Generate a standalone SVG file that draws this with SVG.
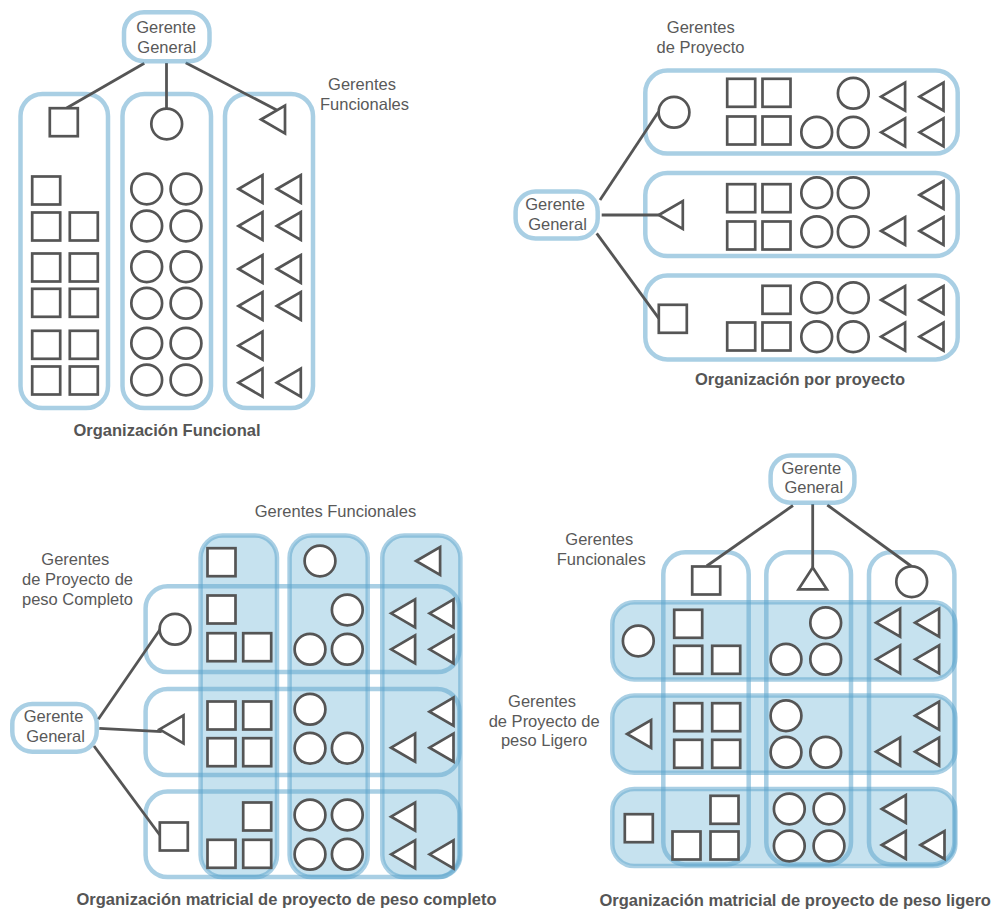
<svg xmlns="http://www.w3.org/2000/svg" xmlns:xlink="http://www.w3.org/1999/xlink" width="995" height="913" viewBox="0 0 995 913">
<style>
.bg{fill:#fff}
.box{fill:none;stroke:rgba(91,163,203,0.52);stroke-width:4.5}
.boxf{fill:#c6e2ef;stroke:rgba(91,163,203,0.52);stroke-width:4.5}
.gg{fill:#fff;stroke:rgba(91,163,203,0.52);stroke-width:4.5}
.sh{fill:#fff;stroke:#555;stroke-width:2.7}
.ln{fill:none;stroke:#555;stroke-width:2.8}
.tx{font-family:"Liberation Sans",Arial,sans-serif;font-size:16.5px;fill:#595959;text-anchor:middle}
.tt{font-family:"Liberation Sans",Arial,sans-serif;font-size:16.5px;font-weight:bold;fill:#555;text-anchor:middle}
</style>
<defs>
<rect id="q" width="28" height="28"/>
<circle id="o" r="15.4"/>
<polygon id="t" points="0,0 24,-14 24,14"/>
</defs>
<rect class="bg" width="995" height="913"/>

<!-- ===== Panel 1: Organización Funcional ===== -->
<g id="p1">
  <g id="p1-cols">
    <rect id="p1-col1" class="box" x="20.5" y="94" width="87.5" height="314" rx="22"/>
    <rect id="p1-col2" class="box" x="122.5" y="94" width="88.5" height="314" rx="22"/>
    <rect id="p1-col3" class="box" x="225" y="94" width="88" height="314" rx="22"/>
  </g>
  <g id="p1-connectors">
    <line class="ln" x1="144.3" y1="63.3" x2="66.7" y2="108"/>
    <line class="ln" x1="166.5" y1="63" x2="166.5" y2="108.6"/>
    <line class="ln" x1="185.7" y1="62.7" x2="276.7" y2="110"/>
  </g>
  <g id="p1-gg">
    <rect class="gg" x="124" y="12.3" width="85.5" height="49" rx="20"/>
    <text class="tx" x="166" y="33.3">Gerente</text>
    <text class="tx" x="166.7" y="53.3">General</text>
  </g>
  <g id="p1-label">
    <text class="tx" x="362" y="90">Gerentes</text>
    <text class="tx" x="364.5" y="110">Funcionales</text>
  </g>
  <g id="p1-mgrs" class="sh">
    <use xlink:href="#q" x="49.8" y="108.2"/>
    <use xlink:href="#o" x="166.7" y="124"/>
    <use xlink:href="#t" x="261" y="119.5"/>
  </g>
  <g id="p1-col1-staff" class="sh">
    <use xlink:href="#q" x="32.2" y="176.5"/>
    <use xlink:href="#q" x="32.2" y="212.5"/><use xlink:href="#q" x="69.8" y="212.5"/>
    <use xlink:href="#q" x="32.2" y="253.5"/><use xlink:href="#q" x="69.8" y="253.5"/>
    <use xlink:href="#q" x="32.2" y="288.8"/><use xlink:href="#q" x="69.8" y="288.8"/>
    <use xlink:href="#q" x="32.2" y="330.8"/><use xlink:href="#q" x="69.8" y="330.8"/>
    <use xlink:href="#q" x="32.2" y="366.5"/><use xlink:href="#q" x="69.8" y="366.5"/>
  </g>
  <g id="p1-col2-staff" class="sh">
    <use xlink:href="#o" x="146.7" y="189"/><use xlink:href="#o" x="186" y="189"/>
    <use xlink:href="#o" x="146.7" y="226"/><use xlink:href="#o" x="186" y="226"/>
    <use xlink:href="#o" x="146.7" y="266.7"/><use xlink:href="#o" x="186" y="266.7"/>
    <use xlink:href="#o" x="146.7" y="303.3"/><use xlink:href="#o" x="186" y="303.3"/>
    <use xlink:href="#o" x="146.7" y="343.3"/><use xlink:href="#o" x="186" y="343.3"/>
    <use xlink:href="#o" x="146.7" y="380"/><use xlink:href="#o" x="186" y="380"/>
  </g>
  <g id="p1-col3-staff" class="sh">
    <use xlink:href="#t" x="238.5" y="189"/><use xlink:href="#t" x="276.8" y="189"/>
    <use xlink:href="#t" x="238.5" y="226"/><use xlink:href="#t" x="276.8" y="226"/>
    <use xlink:href="#t" x="238.5" y="269"/><use xlink:href="#t" x="276.8" y="269"/>
    <use xlink:href="#t" x="238.5" y="306"/><use xlink:href="#t" x="276.8" y="306"/>
    <use xlink:href="#t" x="238.5" y="345.7"/>
    <use xlink:href="#t" x="238.5" y="382.7"/><use xlink:href="#t" x="276.8" y="382.7"/>
  </g>
  <text class="tt" x="167" y="436">Organización Funcional</text>
</g>

<!-- ===== Panel 2: Organización por proyecto ===== -->
<g id="p2">
  <g id="p2-rows">
    <rect id="p2-row1" class="box" x="645.3" y="70.6" width="312.4" height="83" rx="22"/>
    <rect id="p2-row2" class="box" x="645.3" y="173" width="312.4" height="83" rx="22"/>
    <rect id="p2-row3" class="box" x="645.3" y="275.6" width="312.4" height="83.8" rx="22"/>
  </g>
  <g id="p2-connectors">
    <line class="ln" x1="600" y1="200" x2="658.5" y2="111.7"/>
    <line class="ln" x1="601.7" y1="215" x2="658.8" y2="215"/>
    <line class="ln" x1="596.7" y1="233.3" x2="658.8" y2="318.3"/>
  </g>
  <g id="p2-gg">
    <rect class="gg" x="515.6" y="191.6" width="82.1" height="46.8" rx="20"/>
    <text class="tx" x="555" y="210">Gerente</text>
    <text class="tx" x="557.5" y="230">General</text>
  </g>
  <g id="p2-label">
    <text class="tx" x="700.8" y="33.3">Gerentes</text>
    <text class="tx" x="700.5" y="53.3">de Proyecto</text>
  </g>
  <g id="p2-mgrs" class="sh">
    <use xlink:href="#o" x="674" y="112.3"/>
    <use xlink:href="#t" x="658.8" y="215"/>
    <use xlink:href="#q" x="658.8" y="304.8"/>
  </g>
  <g id="p2-row1-staff" class="sh">
    <use xlink:href="#q" x="727.2" y="78.8"/><use xlink:href="#q" x="762.5" y="78.8"/>
    <use xlink:href="#q" x="727.2" y="116.5"/><use xlink:href="#q" x="762.5" y="116.5"/>
    <use xlink:href="#o" x="853.3" y="93.3"/>
    <use xlink:href="#o" x="816.7" y="132.3"/><use xlink:href="#o" x="853.3" y="132.3"/>
    <use xlink:href="#t" x="881.1" y="96.7"/><use xlink:href="#t" x="919.5" y="96.7"/>
    <use xlink:href="#t" x="881.1" y="132.3"/><use xlink:href="#t" x="919.5" y="132.3"/>
  </g>
  <g id="p2-row2-staff" class="sh">
    <use xlink:href="#q" x="727.2" y="184.2"/><use xlink:href="#q" x="762.5" y="184.2"/>
    <use xlink:href="#q" x="727.2" y="221.5"/><use xlink:href="#q" x="762.5" y="221.5"/>
    <use xlink:href="#o" x="816.7" y="192.7"/><use xlink:href="#o" x="853.3" y="192.7"/>
    <use xlink:href="#o" x="816.7" y="231.7"/><use xlink:href="#o" x="853.3" y="231.7"/>
    <use xlink:href="#t" x="919.5" y="195"/>
    <use xlink:href="#t" x="881.1" y="231"/><use xlink:href="#t" x="919.5" y="231"/>
  </g>
  <g id="p2-row3-staff" class="sh">
    <use xlink:href="#q" x="762.5" y="285.8"/>
    <use xlink:href="#q" x="727.2" y="322.5"/><use xlink:href="#q" x="762.5" y="322.5"/>
    <use xlink:href="#o" x="816.7" y="297.7"/><use xlink:href="#o" x="853.3" y="297.7"/>
    <use xlink:href="#o" x="816.7" y="336.7"/><use xlink:href="#o" x="853.3" y="336.7"/>
    <use xlink:href="#t" x="881.1" y="300"/><use xlink:href="#t" x="919.5" y="300"/>
    <use xlink:href="#t" x="881.1" y="336.7"/><use xlink:href="#t" x="919.5" y="336.7"/>
  </g>
  <text class="tt" x="800" y="385">Organización por proyecto</text>
</g>

<!-- ===== Panel 3: matricial peso completo ===== -->
<g id="p3">
  <g id="p3-cols">
    <rect id="p3-col1" class="boxf" x="200.6" y="535.6" width="76.4" height="341.4" rx="22"/>
    <rect id="p3-col2" class="boxf" x="289.6" y="535.6" width="78.1" height="341.4" rx="22"/>
    <rect id="p3-col3" class="boxf" x="382.3" y="535.6" width="78.1" height="341.4" rx="22"/>
  </g>
  <g id="p3-rows">
    <rect id="p3-row1" class="box" x="145.6" y="586.3" width="313.8" height="85.7" rx="22"/>
    <rect id="p3-row2" class="box" x="145.6" y="689" width="313.8" height="86" rx="22"/>
    <rect id="p3-row3" class="box" x="145.6" y="791.6" width="313.8" height="85.4" rx="22"/>
  </g>
  <g id="p3-connectors">
    <line class="ln" x1="98.3" y1="719.3" x2="160" y2="629.5"/>
    <line class="ln" x1="99.3" y1="728.3" x2="161.7" y2="731.7"/>
    <line class="ln" x1="94" y1="746" x2="159.8" y2="835"/>
  </g>
  <g id="p3-gg">
    <rect class="gg" x="12.3" y="704" width="84.4" height="47.7" rx="20"/>
    <text class="tx" x="53.5" y="722.3">Gerente</text>
    <text class="tx" x="55.5" y="741.7">General</text>
  </g>
  <g id="p3-labels">
    <text class="tx" x="335.5" y="516.7">Gerentes Funcionales</text>
    <text class="tx" x="75.3" y="565">Gerentes</text>
    <text class="tx" x="77.5" y="585">de Proyecto de</text>
    <text class="tx" x="77.5" y="605">peso Completo</text>
  </g>
  <g id="p3-mgrs" class="sh">
    <use xlink:href="#q" x="207.5" y="548.2"/>
    <use xlink:href="#o" x="320" y="561"/>
    <use xlink:href="#t" x="416.1" y="561"/>
    <use xlink:href="#o" x="175" y="629.3"/>
    <use xlink:href="#t" x="159.5" y="729.3"/>
    <use xlink:href="#q" x="159.8" y="822.5"/>
  </g>
  <g id="p3-row1-staff" class="sh">
    <use xlink:href="#q" x="207.5" y="595.5"/>
    <use xlink:href="#q" x="207.5" y="633.2"/><use xlink:href="#q" x="243.2" y="633.2"/>
    <use xlink:href="#o" x="347.3" y="610"/>
    <use xlink:href="#o" x="310" y="649.3"/><use xlink:href="#o" x="347.3" y="649.3"/>
    <use xlink:href="#t" x="391.1" y="613.3"/><use xlink:href="#t" x="429.5" y="613.3"/>
    <use xlink:href="#t" x="391.1" y="649.3"/><use xlink:href="#t" x="429.5" y="649.3"/>
  </g>
  <g id="p3-row2-staff" class="sh">
    <use xlink:href="#q" x="207.5" y="701.5"/><use xlink:href="#q" x="243.2" y="701.5"/>
    <use xlink:href="#q" x="207.5" y="738.2"/><use xlink:href="#q" x="243.2" y="738.2"/>
    <use xlink:href="#o" x="310" y="709.3"/>
    <use xlink:href="#o" x="310" y="748.3"/><use xlink:href="#o" x="347.3" y="748.3"/>
    <use xlink:href="#t" x="429.5" y="711.7"/>
    <use xlink:href="#t" x="391.1" y="747.7"/><use xlink:href="#t" x="429.5" y="747.7"/>
  </g>
  <g id="p3-row3-staff" class="sh">
    <use xlink:href="#q" x="243.2" y="802.5"/>
    <use xlink:href="#q" x="207.5" y="839.8"/><use xlink:href="#q" x="243.2" y="839.8"/>
    <use xlink:href="#o" x="310" y="815"/><use xlink:href="#o" x="347.3" y="815"/>
    <use xlink:href="#o" x="310" y="854.3"/><use xlink:href="#o" x="347.3" y="854.3"/>
    <use xlink:href="#t" x="391.1" y="816.7"/>
    <use xlink:href="#t" x="391.1" y="854.3"/><use xlink:href="#t" x="429.5" y="854.3"/>
  </g>
  <text class="tt" x="286.5" y="905">Organización matricial de proyecto de peso completo</text>
</g>

<!-- ===== Panel 4: matricial peso ligero ===== -->
<g id="p4">
  <g id="p4-rows">
    <rect id="p4-row1" class="boxf" x="612.3" y="602.3" width="343.1" height="77.1" rx="22"/>
    <rect id="p4-row2" class="boxf" x="612.3" y="695.6" width="343.1" height="77.1" rx="22"/>
    <rect id="p4-row3" class="boxf" x="612.3" y="789" width="343.1" height="77" rx="22"/>
  </g>
  <g id="p4-cols">
    <rect id="p4-col1" class="box" x="663.3" y="552.3" width="85.4" height="312.1" rx="22"/>
    <rect id="p4-col2" class="box" x="766.3" y="552.3" width="84.7" height="312.1" rx="22"/>
    <rect id="p4-col3" class="box" x="869" y="552.3" width="85.4" height="312.1" rx="22"/>
  </g>
  <g id="p4-connectors">
    <line class="ln" x1="793" y1="505.5" x2="706.7" y2="566"/>
    <line class="ln" x1="812.7" y1="504" x2="812.7" y2="567"/>
    <line class="ln" x1="827.3" y1="505" x2="911.7" y2="566.5"/>
  </g>
  <g id="p4-gg">
    <rect class="gg" x="770.6" y="455.6" width="83.8" height="47.1" rx="20"/>
    <text class="tx" x="811.3" y="474">Gerente</text>
    <text class="tx" x="813.8" y="492.7">General</text>
  </g>
  <g id="p4-labels">
    <text class="tx" x="599.3" y="545">Gerentes</text>
    <text class="tx" x="601.2" y="565">Funcionales</text>
    <text class="tx" x="542" y="706.7">Gerentes</text>
    <text class="tx" x="544.2" y="726.7">de Proyecto de</text>
    <text class="tx" x="544" y="746">peso Ligero</text>
  </g>
  <g id="p4-mgrs" class="sh">
    <use xlink:href="#q" x="692.2" y="566.5"/>
    <polygon points="812.7,567.5 798.5,589.3 826.9,589.3"/>
    <use xlink:href="#o" x="911.7" y="581.7"/>
    <use xlink:href="#o" x="638.3" y="641"/>
    <use xlink:href="#t" x="627.1" y="734"/>
    <use xlink:href="#q" x="624.8" y="814.2"/>
  </g>
  <g id="p4-row1-staff" class="sh">
    <use xlink:href="#q" x="674.2" y="609.8"/>
    <use xlink:href="#q" x="674.2" y="645.8"/><use xlink:href="#q" x="712.2" y="645.8"/>
    <use xlink:href="#o" x="825.7" y="622.7"/>
    <use xlink:href="#o" x="786" y="659.3"/><use xlink:href="#o" x="825.7" y="659.3"/>
    <use xlink:href="#t" x="876.1" y="622.7"/><use xlink:href="#t" x="915.1" y="622.7"/>
    <use xlink:href="#t" x="876.1" y="659.3"/><use xlink:href="#t" x="915.1" y="659.3"/>
  </g>
  <g id="p4-row2-staff" class="sh">
    <use xlink:href="#q" x="674.2" y="703.2"/><use xlink:href="#q" x="712.2" y="703.2"/>
    <use xlink:href="#q" x="674.2" y="739.8"/><use xlink:href="#q" x="712.2" y="739.8"/>
    <use xlink:href="#o" x="786" y="715.7"/>
    <use xlink:href="#o" x="786" y="752.3"/><use xlink:href="#o" x="825.7" y="752.3"/>
    <use xlink:href="#t" x="915.1" y="715.7"/>
    <use xlink:href="#t" x="876.1" y="751.7"/><use xlink:href="#t" x="915.1" y="751.7"/>
  </g>
  <g id="p4-row3-staff" class="sh">
    <use xlink:href="#q" x="710.5" y="795.8"/>
    <use xlink:href="#q" x="672.5" y="831.5"/><use xlink:href="#q" x="710.5" y="831.5"/>
    <use xlink:href="#o" x="789.3" y="809"/><use xlink:href="#o" x="829" y="809"/>
    <use xlink:href="#o" x="789.3" y="846"/><use xlink:href="#o" x="829" y="846"/>
    <use xlink:href="#t" x="881.8" y="809"/>
    <use xlink:href="#t" x="881.8" y="845"/><use xlink:href="#t" x="920.5" y="845"/>
  </g>
  <text class="tt" x="795.2" y="906">Organización matricial de proyecto de peso ligero</text>
</g>
</svg>
